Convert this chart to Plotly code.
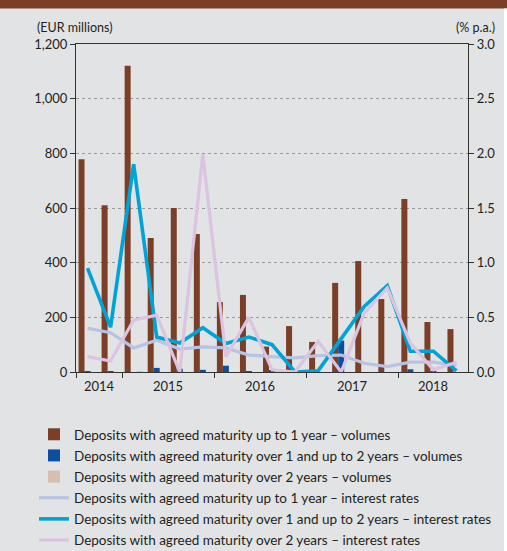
import plotly.graph_objects as go
import numpy as np

# ---- data ----
quarters = ["2014 Q3", "2014 Q4",
            "2015 Q1", "2015 Q2", "2015 Q3", "2015 Q4",
            "2016 Q1", "2016 Q2", "2016 Q3", "2016 Q4",
            "2017 Q1", "2017 Q2", "2017 Q3", "2017 Q4",
            "2018 Q1", "2018 Q2", "2018 Q3"]

vol_upto1 = [778, 610, 1120, 490, 600, 505, 256, 282, 93, 168, 110, 326, 406, 267, 633, 183, 157]
vol_1to2 = [2, 3, 0, 15, 12, 8, 23, 2, 5, 0, 0, 115, 0, 0, 10, 3, 0]
vol_over2 = [0, 0, 2, 0, 0, 0, 0, 0, 0, 0, 0, 0, 0, 0, 0, 0, 0]

rate_upto1 = [0.40, 0.36, 0.22, 0.29, 0.21, 0.23, 0.22, 0.155, 0.14, 0.13, 0.15, 0.155, 0.08, 0.05, 0.09, 0.09, 0.06]
rate_1to2 = [0.95, 0.41, 1.90, 0.32, 0.265, 0.405, 0.26, 0.32, 0.25, 0.0, 0.01, 0.30, 0.60, 0.79, 0.19, 0.19, 0.01]
rate_over2 = [0.14, 0.10, 0.475, 0.52, 0.0, 1.99, 0.14, 0.50, 0.02, 0.0, 0.28, 0.0, 0.54, 0.77, 0.265, 0.02, 0.09]

names = ["Deposits with agreed maturity up to 1 year \u2013 volumes",
         "Deposits with agreed maturity over 1 and up to 2 years \u2013 volumes",
         "Deposits with agreed maturity over 2 years \u2013 volumes",
         "Deposits with agreed maturity up to 1 year \u2013 interest rates",
         "Deposits with agreed maturity over 1 and up to 2 years \u2013 interest rates",
         "Deposits with agreed maturity over 2 years \u2013 interest rates"]

left_ticks = [0, 200, 400, 600, 800, 1000, 1200]
left_labels = ["0", "200", "400", "600", "800", "1,000", "1,200"]
right_ticks = [0, 0.5, 1.0, 1.5, 2.0, 2.5, 3.0]
right_labels = ["0.0", "0.5", "1.0", "1.5", "2.0", "2.5", "3.0"]

# ---- derived ----
x = list(range(len(quarters)))
years = sorted(set(q[:4] for q in quarters))
year_centers = [np.mean([i for i, q in enumerate(quarters) if q[:4] == y]) for y in years]
year_bounds = [-0.5] + [i - 0.5 for i in range(1, len(quarters)) if quarters[i][:4] != quarters[i - 1][:4]]

FONT = "Lato, Liberation Sans, sans-serif"
TXT = "#231f20"
BG = "#e2e3e5"

fig = go.Figure()
bar_colors = ["#7b3f27", "#0b4f9e", "#d6bfae"]
for vals, nm, c in zip([vol_upto1, vol_1to2, vol_over2], names[:3], bar_colors):
    fig.add_trace(go.Bar(x=x, y=vals, name=nm, marker=dict(color=c, line=dict(width=0)),
                         legendgroup=nm, yaxis="y"))
line_colors = ["#b8c3e3", "#00a3d6", "#dcc3e0"]
line_widths = [3.2, 3.6, 3.2]
for vals, nm, c, w in zip([rate_upto1, rate_1to2, rate_over2], names[3:], line_colors, line_widths):
    fig.add_trace(go.Scatter(x=x, y=vals, name=nm, mode="lines", line=dict(color=c, width=w),
                             legendgroup=nm, yaxis="y2"))

W, H = 507, 551
L, R, T, B = 76, 468, 44, 372
pw, ph = R - L, B - T

def px2x(px):
    return (px - L) / pw

def py2y(py):
    return (B - py) / ph

annotations = [
    dict(text="(EUR millions)", x=px2x(75), y=py2y(27), xref="paper", yref="paper",
         showarrow=False, xanchor="center", yanchor="middle", font=dict(size=12.5, color=TXT, family=FONT)),
    dict(text="(% p.a.)", x=px2x(475), y=py2y(27), xref="paper", yref="paper",
         showarrow=False, xanchor="center", yanchor="middle", font=dict(size=12.5, color=TXT, family=FONT)),
]
for yr, cx in zip(years, year_centers):
    annotations.append(dict(text=yr, x=cx, y=py2y(386), xref="x", yref="paper", showarrow=False,
                            xanchor="center", yanchor="middle", font=dict(size=13, color=TXT, family=FONT)))

shapes = [
    dict(type="rect", xref="paper", yref="paper", x0=px2x(-5), x1=px2x(W + 5), y0=py2y(8.5), y1=py2y(-5),
         fillcolor="#7b3f27", line=dict(width=0), layer="below"),
    dict(type="rect", xref="paper", yref="paper", x0=px2x(504), x1=px2x(W + 5), y0=py2y(H + 100), y1=py2y(8.5),
         fillcolor="#ffffff", line=dict(width=0), layer="below"),
]

fig.update_layout(
    width=W, height=H,
    margin=dict(l=L, r=W - R, t=T, b=H - B, pad=0, autoexpand=False),
    paper_bgcolor=BG, plot_bgcolor=BG,
    barmode="group", bargap=0.22, bargroupgap=0,
    font=dict(family=FONT, size=13, color=TXT),
    showlegend=True,
    legend=dict(x=px2x(34), y=py2y(419), xanchor="left", yanchor="top", orientation="v",
                font=dict(size=13.5, color=TXT, family=FONT), tracegroupgap=0.6,
                bgcolor="rgba(0,0,0,0)", itemwidth=30, traceorder="grouped"),
    xaxis=dict(range=[-0.5, len(quarters) - 0.5], tickmode="array", tickvals=year_bounds,
               ticktext=["" for _ in year_bounds], ticks="outside", ticklen=5, tickcolor="#333333",
               showline=True, linecolor="#333333", linewidth=1.2, mirror=True, showgrid=False,
               zeroline=False, fixedrange=True),
    yaxis=dict(range=[0, 1200], tickmode="array", tickvals=left_ticks, ticktext=left_labels,
               ticks="outside", ticklen=5, tickcolor="#333333", showline=True, linecolor="#333333",
               linewidth=1.2, showgrid=True, gridcolor="#9a9a9a", griddash="dot", gridwidth=1,
               zeroline=False, tickfont=dict(size=13, color=TXT, family=FONT)),
    yaxis2=dict(range=[0, 3.0], tickmode="array", tickvals=right_ticks, ticktext=right_labels,
                overlaying="y", side="right", ticks="outside", ticklen=5, tickcolor="#333333",
                showline=True, linecolor="#333333", linewidth=1.2, showgrid=False, zeroline=False,
                tickfont=dict(size=13, color=TXT, family=FONT)),
    annotations=annotations, shapes=shapes,
)

fig.write_html("out.html", config={"displayModeBar": False},
               post_script="document.body.style.margin='0px';document.body.style.overflow='hidden';")
